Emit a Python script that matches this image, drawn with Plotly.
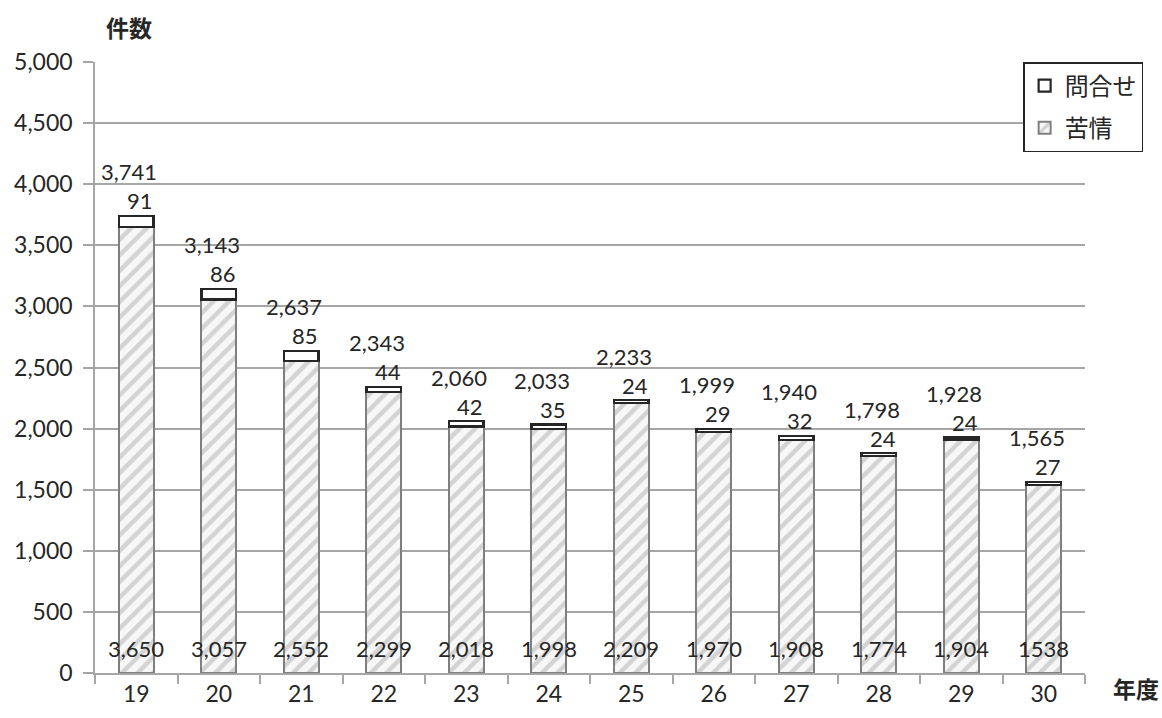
import plotly.graph_objects as go

# 年度ごとの件数
years = ["19", "20", "21", "22", "23", "24", "25", "26", "27", "28", "29", "30"]
complaints = [3650, 3057, 2552, 2299, 2018, 1998, 2209, 1970, 1908, 1774, 1904, 1538]
inquiries = [91, 86, 85, 44, 42, 35, 24, 29, 32, 24, 24, 27]
complaint_labels = ["3,650", "3,057", "2,552", "2,299", "2,018", "1,998",
                    "2,209", "1,970", "1,908", "1,774", "1,904", "1538"]
totals = [c + q for c, q in zip(complaints, inquiries)]

FONT = "Lato, 'Noto Sans CJK JP', sans-serif"
CJK = "'Noto Sans CJK JP', sans-serif"
GRID = "#a6a6a6"
TEXT = "#262626"

fig = go.Figure()
fig.add_trace(go.Bar(
    x=years, y=complaints, name="苦情", legendgroup="complaints", legendrank=2,
    marker=dict(
        color="#f2f2f2",
        line=dict(color="#7f7f7f", width=2),
        pattern=dict(shape="/", fgcolor="#b0b0b0", bgcolor="#f7f7f7",
                     size=11, solidity=0.4),
    ),
))
fig.add_trace(go.Bar(
    x=years, y=inquiries, name="問合せ", legendgroup="inquiries", legendrank=1,
    marker=dict(color="white", line=dict(color=TEXT, width=2.2)),
))

# category positions are addressed by index on the category axis
annotations = []
for i, (c, q, t, cl) in enumerate(zip(complaints, inquiries, totals, complaint_labels)):
    annotations.append(dict(x=i, y=t, text=f"{t:,}", showarrow=False,
                            yshift=44, xshift=-7, yanchor="middle",
                            font=dict(family=FONT, size=22, color=TEXT)))
    annotations.append(dict(x=i, y=t, text=str(q), showarrow=False,
                            yshift=15, xshift=4, yanchor="middle",
                            font=dict(family=FONT, size=22, color=TEXT)))
    annotations.append(dict(x=i, y=0, text=cl, showarrow=False,
                            yshift=25, yanchor="middle",
                            font=dict(family=FONT, size=22, color=TEXT)))

annotations.append(dict(xref="paper", yref="paper", x=0.0, y=1.0,
                        xshift=34, yshift=35, text="<b>件数</b>", showarrow=False,
                        xanchor="center", yanchor="middle",
                        font=dict(family=CJK, size=23, color=TEXT)))
annotations.append(dict(xref="paper", yref="paper", x=1.0, y=0.0,
                        xshift=51, yshift=-15, text="<b>年度</b>", showarrow=False,
                        xanchor="center", yanchor="middle",
                        font=dict(family=CJK, size=23, color=TEXT)))

fig.update_layout(
    width=1162, height=718,
    margin=dict(l=95, r=77, t=62, b=45),
    barmode="stack", bargap=0.58,
    plot_bgcolor="white", paper_bgcolor="white",
    font=dict(family=FONT, size=22, color=TEXT),
    annotations=annotations,
    legend=dict(
        x=0.9375, y=1.0, xanchor="left", yanchor="top",
        traceorder="grouped",
        bordercolor=TEXT, borderwidth=1.5, bgcolor="white",
        font=dict(family=CJK, size=24, color=TEXT),
        itemwidth=30, tracegroupgap=8,
    ),
    xaxis=dict(
        type="category", range=[-0.5, 11.5], showgrid=False,
        showline=True, linecolor=GRID, linewidth=1.5,
        ticks="outside", tickson="boundaries", ticklen=9,
        tickcolor=GRID, tickwidth=1.5, tickangle=0,
        tickfont=dict(family=FONT, size=23, color=TEXT),
    ),
    yaxis=dict(
        range=[0, 5000], dtick=500, tickformat=",",
        showgrid=True, gridcolor=GRID, gridwidth=1.5,
        showline=True, linecolor=GRID, linewidth=1.5,
        ticks="outside", ticklen=10, tickcolor=GRID, tickwidth=1.5,
        ticklabelstandoff=6,
        zeroline=False,
        tickfont=dict(family=FONT, size=23, color=TEXT),
    ),
)

fig.write_html("out.html")
